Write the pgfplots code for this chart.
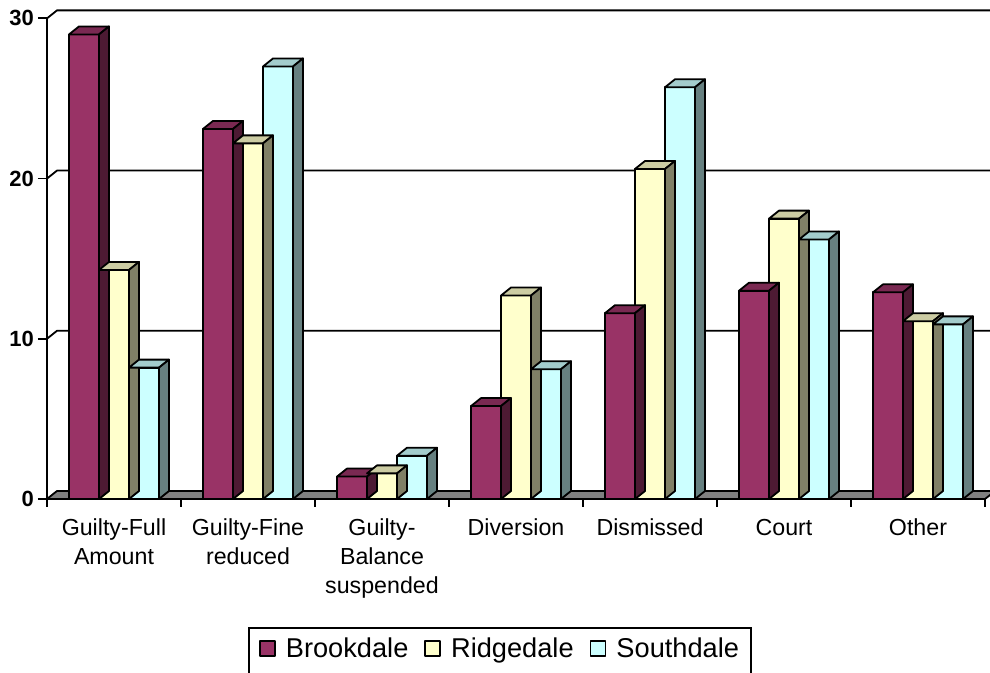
\documentclass[border=0pt]{standalone}
\usepackage{fontspec}
\setmainfont{Liberation Sans}
\usepackage{pgfplots}
\usepackage{pgfplotstable}
\pgfplotsset{compat=1.18}

% front, top and side shades of each series
\definecolor{brook}{HTML}{993366}
\definecolor{brooktop}{HTML}{7A2952}
\definecolor{brookside}{HTML}{4D1A33}
\definecolor{ridge}{HTML}{FFFFCC}
\definecolor{ridgetop}{HTML}{CCCCA3}
\definecolor{ridgeside}{HTML}{808066}
\definecolor{south}{HTML}{CCFFFF}
\definecolor{southtop}{HTML}{A3CCCC}
\definecolor{southside}{HTML}{668080}
\definecolor{floorgray}{HTML}{808080}

% case outcomes per location
\pgfplotstableread{
x  B     R     S
0  29.0  14.3  8.2
1  23.1  22.2  27.0
2  1.4   1.6   2.7
3  5.8   12.7  8.1
4  11.6  20.6  25.7
5  13.0  17.5  16.2
6  12.9  11.1  10.9
}\outcomes

\pgfdeclareplotmark{blank}{}

\pgfplotsset{
  % front face of a bar
  front/.style 2 args={ybar, bar width=15pt, bar shift=#1,
    fill=#2, draw=black, line width=0.9pt, line join=round,
    legend image code/.code={\draw[fill=#2, draw=black, line width=0.9pt]
      (0pt,1.1pt) rectangle (7.5pt,8.6pt);}},
  % top and right-hand faces, drawn at each bar top
  depth/.style n args={4}{forget plot, only marks, mark=blank, scatter,
    visualization depends on={\thisrow{#4} \as \hval},
    scatter/@pre marker code/.code={%
      \filldraw[fill=#2, draw=black, line width=0.9pt, line join=round]
        ({#1-7.5pt},0pt) -- ++(5pt,4pt) -- ++(15pt,0pt) -- ++(-5pt,-4pt) -- cycle;
      \filldraw[fill=#3, draw=black, line width=0.9pt, line join=round]
        ({#1+7.5pt},0pt) -- ++(5pt,4pt) -- ++(0pt,{-\hval*8.01pt}) -- ++(-5pt,-4pt) -- cycle;
    },
    scatter/@post marker code/.code={}},
}

\begin{document}
\begin{tikzpicture}
\begin{axis}[
  x=67pt, y=8.01pt,
  xmin=-0.5, xmax=6.5, ymin=0, ymax=30,
  clip=false,
  axis x line*=bottom, axis y line*=left,
  axis line style={line width=0.9pt},
  xtick={0,...,6},
  xticklabels={{Guilty-Full\\Amount},{Guilty-Fine\\reduced},{Guilty-\\Balance\\suspended},Diversion,Dismissed,Court,Other},
  xtick style={draw=none},
  xticklabel style={align=center, font=\fontsize{11.6}{14.5}\selectfont, yshift=-2pt},
  ytick={0,10,20,30},
  ytick style={line width=0.9pt, black},
  tick align=outside, major tick length=4.5pt,
  yticklabel style={font=\fontsize{11}{13}\selectfont\bfseries, xshift=1.5pt},
  /pgf/number format/assume math mode=true,
  legend style={
    at={(0.483,-0.2663)}, anchor=north,
    legend columns=3,
    draw=black, line width=0.9pt,
    inner xsep=5pt, inner ysep=3pt,
    font=\fontsize{13.6}{16}\selectfont,
    nodes={inner xsep=1pt, inner ysep=0pt, text height=12pt, text depth=12pt},
    /tikz/every odd column/.append style={column sep=4pt},
    /tikz/every even column/.append style={column sep=7pt},
  },
]
% back wall grid lines with their links to the front axis
\pgfplotsinvokeforeach{10,20,30}{
  \draw[line width=0.9pt] (axis cs:-0.5,#1) -- ++(5pt,4pt) -- ([xshift=5pt,yshift=4pt]axis cs:6.5,#1);
}
% floor
\filldraw[fill=floorgray, line width=0.9pt, line join=round]
  (axis cs:-0.5,0) -- ++(5pt,4pt) -- ([xshift=5pt,yshift=4pt]axis cs:6.5,0) -- (axis cs:6.5,0) -- cycle;
% category separators
\pgfplotsinvokeforeach{-0.5,0.5,1.5,2.5,3.5,4.5,5.5,6.5}{
  \draw[line width=0.9pt] (axis cs:#1,0) -- ++(0pt,-4pt);
}

\addplot[front={-15pt}{brook}] table[x=x,y=B]{\outcomes};
\addlegendentry{Brookdale}
\addplot[depth={-15pt}{brooktop}{brookside}{B}] table[x=x,y=B]{\outcomes};

\addplot[front={0pt}{ridge}] table[x=x,y=R]{\outcomes};
\addlegendentry{Ridgedale}
\addplot[depth={0pt}{ridgetop}{ridgeside}{R}] table[x=x,y=R]{\outcomes};

\addplot[front={15pt}{south}] table[x=x,y=S]{\outcomes};
\addlegendentry{Southdale}
\addplot[depth={15pt}{southtop}{southside}{S}] table[x=x,y=S]{\outcomes};
\end{axis}
\pgfresetboundingbox
\path (-23.5pt,-87pt) rectangle (471.5pt,249.5pt);
\end{tikzpicture}
\end{document}
